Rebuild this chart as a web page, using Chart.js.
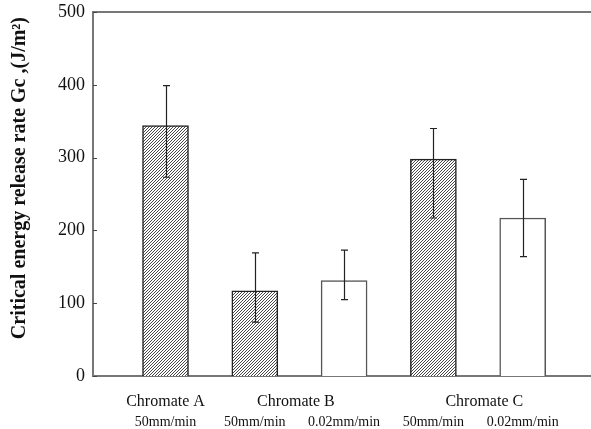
<!DOCTYPE html>
<html>
<head>
<meta charset="utf-8">
<script src="https://cdn.jsdelivr.net/npm/chart.js@4.4.0/dist/chart.umd.min.js"></script>
<style>
  body { margin: 0; background: #fff; }
  canvas { display: block; }
</style>
</head>
<body>
<canvas id="chart-bar" width="591" height="429"></canvas>
<script>
// values
const barPositions = [1, 2, 3, 4, 5]
const gcValues = [344, 117, 131, 298, 217]
const errUpper = [399, 169, 173, 340, 270]
const errLower = [273, 74, 105, 217, 164]
const rateLabels = ['50mm/min', '50mm/min', '0.02mm/min', '50mm/min', '0.02mm/min']
const hatched = [true, true, false, true, false]
const groupLabels = ['Chromate A', 'Chromate B', 'Chromate C']
const groupPositions = [1, 2.46, 4.57]
const yTicks = [0, 100, 200, 300, 400, 500]

// diagonal hatch, lines about 3px apart
const pc = document.createElement('canvas')
pc.width = 3; pc.height = 3
const pctx = pc.getContext('2d')
pctx.fillStyle = '#fff'
pctx.fillRect(0, 0, 3, 3)
pctx.strokeStyle = '#333'
pctx.lineWidth = 0.9
pctx.beginPath()
pctx.moveTo(0, 3); pctx.lineTo(3, 0)
pctx.moveTo(-1, 1); pctx.lineTo(1, -1)
pctx.moveTo(2, 4); pctx.lineTo(4, 2)
pctx.stroke()
const hatch = document.getElementById('chart-bar').getContext('2d').createPattern(pc, 'repeat')

const serif = 'Liberation Serif'

const errorBars = {
  id: 'errorBars',
  afterDatasetsDraw(chart) {
    const ctx = chart.ctx
    const x = chart.scales.x, y = chart.scales.y
    ctx.save()
    ctx.strokeStyle = '#222'
    ctx.lineWidth = 1.2
    barPositions.forEach((p, i) => {
      const px = Math.round(x.getPixelForValue(p)) + 0.5
      const top = y.getPixelForValue(errUpper[i])
      const bot = y.getPixelForValue(errLower[i])
      ctx.beginPath()
      ctx.moveTo(px, top); ctx.lineTo(px, bot)
      ctx.moveTo(px - 3.5, top); ctx.lineTo(px + 3.5, top)
      ctx.moveTo(px - 3.5, bot); ctx.lineTo(px + 3.5, bot)
      ctx.stroke()
    })
    ctx.restore()
  }
}

const frame = {
  id: 'frame',
  afterDraw(chart) {
    const ctx = chart.ctx
    const a = chart.chartArea, y = chart.scales.y
    ctx.save()
    ctx.strokeStyle = '#777'
    ctx.lineWidth = 2
    ctx.beginPath()
    ctx.moveTo(a.left, a.top); ctx.lineTo(a.right, a.top)
    ctx.stroke()
    ctx.lineWidth = 1
    ctx.strokeStyle = '#444'
    ctx.beginPath()
    yTicks.forEach(v => {
      const py = Math.round(y.getPixelForValue(v)) + 0.5
      ctx.moveTo(a.left, py); ctx.lineTo(a.left + 4, py)
    })
    ctx.stroke()
    ctx.restore()
  }
}

new Chart(document.getElementById('chart-bar'), {
  type: 'bar',
  data: {
    datasets: [{
      xAxisID: 'x',
      yAxisID: 'y',
      data: barPositions.map((p, i) => ({ x: p, y: gcValues[i] })),
      backgroundColor: hatched.map(h => h ? hatch : '#fff'),
      borderColor: hatched.map(h => h ? '#222' : '#555'),
      borderWidth: 1.5,
      barThickness: 46
    }]
  },
  options: {
    responsive: false,
    animation: false,
    events: [],
    layout: { padding: { top: 12, right: 0, bottom: 0, left: 0 } },
    plugins: { legend: { display: false }, tooltip: { enabled: false } },
    scales: {
      x2: {
        type: 'linear',
        position: 'bottom',
        weight: 0,
        offset: false,
        min: 0.188,
        max: 5.765,
        afterBuildTicks: s => { s.ticks = groupPositions.map(v => ({ value: v })) },
        afterFit: s => { s.height = 34; s.paddingLeft = 0; s.paddingRight = 0 },
        grid: { display: false, drawTicks: false, offset: false },
        border: { display: true, color: '#777', width: 2 },
        ticks: {
          autoSkip: false, maxRotation: 0, padding: 16,
          color: '#111', font: { family: serif, size: 16 },
          callback: (v, i) => groupLabels[i]
        }
      },
      x: {
        type: 'linear',
        position: 'bottom',
        weight: 1,
        offset: false,
        min: 0.188,
        max: 5.765,
        afterBuildTicks: s => { s.ticks = barPositions.map(v => ({ value: v })) },
        afterFit: s => { s.height = 19; s.paddingLeft = 0; s.paddingRight = 0 },
        grid: { display: false, drawTicks: false, offset: false },
        border: { display: false },
        ticks: {
          autoSkip: false, maxRotation: 0, padding: 4,
          color: '#111', font: { family: serif, size: 14 },
          callback: (v, i) => rateLabels[i]
        }
      },
      y: {
        min: 0,
        max: 500,
        afterBuildTicks: s => { s.ticks = yTicks.map(v => ({ value: v })) },
        afterFit: s => { s.width = 93; s.paddingTop = 0; s.paddingBottom = 0 },
        grid: { display: false, drawTicks: false },
        border: { display: true, color: '#777', width: 2 },
        ticks: { padding: 8, color: '#111', font: { family: serif, size: 18 } },
        title: {
          display: true,
          align: 'end',
          text: 'Critical energy release rate Gc ,(J/m²) ',
          color: '#111',
          font: { family: serif, size: 20, weight: 'bold' },
          padding: { top: 8, bottom: 0 }
        }
      }
    }
  },
  plugins: [errorBars, frame]
})
</script>
</body>
</html>
